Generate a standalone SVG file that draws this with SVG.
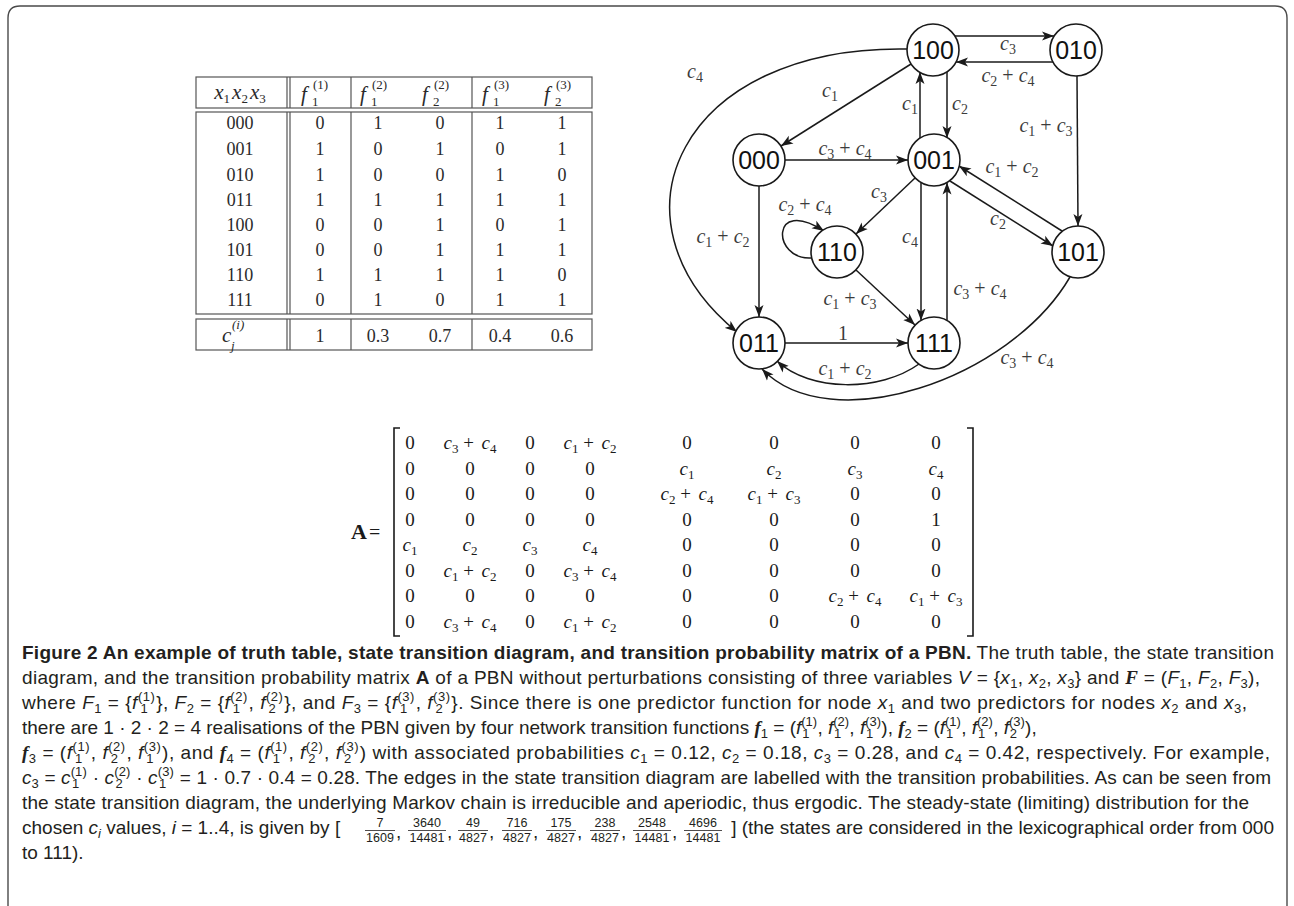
<svg xmlns="http://www.w3.org/2000/svg" width="1294" height="906" viewBox="0 0 1294 906">
<defs>
<style>
.frame{fill:none;stroke:#4a4a4a;stroke-width:1.4}
.tb{fill:none;stroke:#555;stroke-width:1.2}
.tt{font-family:"Liberation Serif","Times New Roman",serif;font-size:18px;fill:#2a2a2a;text-anchor:middle}
.ts{font-family:"Liberation Serif","Times New Roman",serif;font-size:13px;fill:#2a2a2a}
.tf{font-family:"Liberation Serif","Times New Roman",serif;font-size:21px;fill:#2a2a2a;font-style:italic}
.i{font-style:italic}
.node circle{fill:#fff;stroke:#1a1a1a;stroke-width:1.6}
.node text{font-family:"Liberation Sans",Arial,sans-serif;font-size:25px;fill:#111;text-anchor:middle}
.edge{fill:none;stroke:#1a1a1a;stroke-width:1.5;marker-end:url(#ah)}
.gl{font-family:"Liberation Serif",serif;font-size:20px;fill:#3c3c3c;text-anchor:middle}
.gs{font-size:14px}
.mx{font-family:"Liberation Serif",serif;font-size:19px;fill:#1a1a1a;text-anchor:middle}
.ms{font-size:13px}
.br{fill:none;stroke:#1a1a1a;stroke-width:1.6}
.cap{font-family:"Liberation Sans",Arial,sans-serif;font-size:19px;fill:#231f20}
.cb{font-weight:bold}
.ci{font-style:italic}
.cs{font-size:13px}
.bfi{font-family:"Liberation Serif",serif;font-weight:bold;font-style:italic}
.fr{font-family:"Liberation Sans",Arial,sans-serif;font-size:12.5px;fill:#231f20;text-anchor:middle}
.fb{stroke:#231f20;stroke-width:0.8}
</style>
<marker id="ah" viewBox="0 0 12 10" refX="12" refY="5" markerWidth="12" markerHeight="10" markerUnits="userSpaceOnUse" orient="auto"><path d="M0,0.5 L12,5 L0,9.5 L3,5 z" fill="#1a1a1a"/></marker>
</defs>
<rect width="1294" height="906" fill="#fff"/>
<path class="frame" d="M8,930 L8,18 Q8,6 20,6 L1275,6 Q1287,6 1287,18 L1287,930"/>

<g id="truth-table">
<rect class="tb" x="196" y="77" width="396" height="31"/>
<rect class="tb" x="196" y="112" width="396" height="202"/>
<rect class="tb" x="196" y="319" width="396" height="31"/>
<path class="tb" d="M287,77V108M290,77V108M351,77V108M472,77V108M287,112V314M290,112V314M351,112V314M472,112V314M287,319V350M290,319V350M351,319V350M472,319V350"/>
<text class="tt" x="240" y="99" style="font-size:21px"><tspan class="i">x</tspan><tspan class="ts" dy="4">1</tspan><tspan class="i" dx="2" dy="-4">x</tspan><tspan class="ts" dy="4">2</tspan><tspan class="i" dx="2" dy="-4">x</tspan><tspan class="ts" dy="4">3</tspan></text>
<text class="tf" x="301" y="101">f</text><text class="ts" x="313" y="89">(1)</text><text class="ts" x="312" y="106">1</text>
<text class="tf" x="360" y="101">f</text><text class="ts" x="372" y="89">(2)</text><text class="ts" x="371" y="106">1</text>
<text class="tf" x="422" y="101">f</text><text class="ts" x="434" y="89">(2)</text><text class="ts" x="433" y="106">2</text>
<text class="tf" x="482" y="101">f</text><text class="ts" x="494" y="89">(3)</text><text class="ts" x="493" y="106">1</text>
<text class="tf" x="544" y="101">f</text><text class="ts" x="556" y="89">(3)</text><text class="ts" x="555" y="106">2</text>
<text class="tt" y="129"><tspan x="240">000</tspan><tspan x="320">0</tspan><tspan x="378">1</tspan><tspan x="440">0</tspan><tspan x="500">1</tspan><tspan x="562">1</tspan></text>
<text class="tt" y="155"><tspan x="240">001</tspan><tspan x="320">1</tspan><tspan x="378">0</tspan><tspan x="440">1</tspan><tspan x="500">0</tspan><tspan x="562">1</tspan></text>
<text class="tt" y="181"><tspan x="240">010</tspan><tspan x="320">1</tspan><tspan x="378">0</tspan><tspan x="440">0</tspan><tspan x="500">1</tspan><tspan x="562">0</tspan></text>
<text class="tt" y="206"><tspan x="240">011</tspan><tspan x="320">1</tspan><tspan x="378">1</tspan><tspan x="440">1</tspan><tspan x="500">1</tspan><tspan x="562">1</tspan></text>
<text class="tt" y="231"><tspan x="240">100</tspan><tspan x="320">0</tspan><tspan x="378">0</tspan><tspan x="440">1</tspan><tspan x="500">0</tspan><tspan x="562">1</tspan></text>
<text class="tt" y="256"><tspan x="240">101</tspan><tspan x="320">0</tspan><tspan x="378">0</tspan><tspan x="440">1</tspan><tspan x="500">1</tspan><tspan x="562">1</tspan></text>
<text class="tt" y="281"><tspan x="240">110</tspan><tspan x="320">1</tspan><tspan x="378">1</tspan><tspan x="440">1</tspan><tspan x="500">1</tspan><tspan x="562">0</tspan></text>
<text class="tt" y="306"><tspan x="240">111</tspan><tspan x="320">0</tspan><tspan x="378">1</tspan><tspan x="440">0</tspan><tspan x="500">1</tspan><tspan x="562">1</tspan></text>
<text class="tf" x="222" y="342">c</text><text class="ts i" x="232" y="329">(i)</text><text class="ts i" x="231" y="350">j</text>
<text class="tt" y="342"><tspan x="320">1</tspan><tspan x="378">0.3</tspan><tspan x="440">0.7</tspan><tspan x="500">0.4</tspan><tspan x="562">0.6</tspan></text>
</g>

<g id="edges">
<path class="edge" d="M955,36 L1054,36"/>
<path class="edge" d="M1053,62 L956,62"/>
<path class="edge" d="M1077,76 L1078,226"/>
<path class="edge" d="M911,64 L781,146"/>
<path class="edge" d="M920,138 L920,72"/>
<path class="edge" d="M947,72 L947,138"/>
<path class="edge" d="M785,160 L908,160"/>
<path class="edge" d="M915,178 L856,234"/>
<path class="edge" d="M811,258 C772,260 770,196 824,231"/>
<path class="edge" d="M921,182.5 L921,320.5"/>
<path class="edge" d="M947,320.5 L947,182.5"/>
<path class="edge" d="M950,181 L1053,246"/>
<path class="edge" d="M1062,231 L959,166"/>
<path class="edge" d="M759,186 L759,317"/>
<path class="edge" d="M907,49 C680,45 600,220 737,332"/>
<path class="edge" d="M856,270 L915,325"/>
<path class="edge" d="M785,343 L908,343"/>
<path class="edge" d="M919,364 C880,392 810,392 777,361"/>
<path class="edge" d="M1070,277 C1010,380 830,440 762,369"/>
<text class="gl" x="1008" y="50"><tspan class="i">c</tspan><tspan class="gs" dy="4">3</tspan></text>
<text class="gl" x="1008" y="82"><tspan class="i">c</tspan><tspan class="gs" dy="4">2</tspan><tspan dy="-4"> + </tspan><tspan class="i">c</tspan><tspan class="gs" dy="4">4</tspan></text>
<text class="gl" x="1046" y="132"><tspan class="i">c</tspan><tspan class="gs" dy="4">1</tspan><tspan dy="-4"> + </tspan><tspan class="i">c</tspan><tspan class="gs" dy="4">3</tspan></text>
<text class="gl" x="830" y="97"><tspan class="i">c</tspan><tspan class="gs" dy="4">1</tspan></text>
<text class="gl" x="910" y="110"><tspan class="i">c</tspan><tspan class="gs" dy="4">1</tspan></text>
<text class="gl" x="960" y="110"><tspan class="i">c</tspan><tspan class="gs" dy="4">2</tspan></text>
<text class="gl" x="845" y="155"><tspan class="i">c</tspan><tspan class="gs" dy="4">3</tspan><tspan dy="-4"> + </tspan><tspan class="i">c</tspan><tspan class="gs" dy="4">4</tspan></text>
<text class="gl" x="879" y="198"><tspan class="i">c</tspan><tspan class="gs" dy="4">3</tspan></text>
<text class="gl" x="805" y="211"><tspan class="i">c</tspan><tspan class="gs" dy="4">2</tspan><tspan dy="-4"> + </tspan><tspan class="i">c</tspan><tspan class="gs" dy="4">4</tspan></text>
<text class="gl" x="910" y="243"><tspan class="i">c</tspan><tspan class="gs" dy="4">4</tspan></text>
<text class="gl" x="980" y="295"><tspan class="i">c</tspan><tspan class="gs" dy="4">3</tspan><tspan dy="-4"> + </tspan><tspan class="i">c</tspan><tspan class="gs" dy="4">4</tspan></text>
<text class="gl" x="998" y="225"><tspan class="i">c</tspan><tspan class="gs" dy="4">2</tspan></text>
<text class="gl" x="1012" y="173"><tspan class="i">c</tspan><tspan class="gs" dy="4">1</tspan><tspan dy="-4"> + </tspan><tspan class="i">c</tspan><tspan class="gs" dy="4">2</tspan></text>
<text class="gl" x="723" y="243"><tspan class="i">c</tspan><tspan class="gs" dy="4">1</tspan><tspan dy="-4"> + </tspan><tspan class="i">c</tspan><tspan class="gs" dy="4">2</tspan></text>
<text class="gl" x="695" y="78"><tspan class="i">c</tspan><tspan class="gs" dy="4">4</tspan></text>
<text class="gl" x="850" y="305"><tspan class="i">c</tspan><tspan class="gs" dy="4">1</tspan><tspan dy="-4"> + </tspan><tspan class="i">c</tspan><tspan class="gs" dy="4">3</tspan></text>
<text class="gl" x="843" y="340">1</text>
<text class="gl" x="845" y="375"><tspan class="i">c</tspan><tspan class="gs" dy="4">1</tspan><tspan dy="-4"> + </tspan><tspan class="i">c</tspan><tspan class="gs" dy="4">2</tspan></text>
<text class="gl" x="1027" y="364"><tspan class="i">c</tspan><tspan class="gs" dy="4">3</tspan><tspan dy="-4"> + </tspan><tspan class="i">c</tspan><tspan class="gs" dy="4">4</tspan></text>
</g>

<g id="n100" class="node"><circle cx="933" cy="50" r="26"/><text x="933" y="59">100</text></g>
<g id="n010" class="node"><circle cx="1076" cy="50" r="26"/><text x="1076" y="59">010</text></g>
<g id="n000" class="node"><circle cx="759" cy="160" r="26"/><text x="759" y="169">000</text></g>
<g id="n001" class="node"><circle cx="934" cy="160" r="26"/><text x="934" y="169">001</text></g>
<g id="n110" class="node"><circle cx="837" cy="252" r="26"/><text x="837" y="261">110</text></g>
<g id="n101" class="node"><circle cx="1078" cy="252" r="26"/><text x="1078" y="261">101</text></g>
<g id="n011" class="node"><circle cx="759" cy="343" r="26"/><text x="759" y="352">011</text></g>
<g id="n111" class="node"><circle cx="934" cy="343" r="26"/><text x="934" y="352">111</text></g>

<g id="matrix">
<text x="351" y="539" style="font-family:'Liberation Serif',serif;font-size:22px;font-weight:bold;fill:#1a1a1a">A</text>
<text x="369" y="539" style="font-family:'Liberation Serif',serif;font-size:20px;fill:#1a1a1a">=</text>
<path class="br" d="M400,428 H394 V636 H400"/>
<path class="br" d="M967,428 H973 V636 H967"/>
<text class="mx" y="449"><tspan x="410">0</tspan><tspan x="470" class="i">c</tspan><tspan class="ms" dy="4">3</tspan><tspan dy="-4"> + </tspan><tspan class="i" dx="3">c</tspan><tspan class="ms" dy="4">4</tspan><tspan x="530" dy="-4">0</tspan><tspan x="590" class="i">c</tspan><tspan class="ms" dy="4">1</tspan><tspan dy="-4"> + </tspan><tspan class="i" dx="3">c</tspan><tspan class="ms" dy="4">2</tspan><tspan x="687" dy="-4">0</tspan><tspan x="774">0</tspan><tspan x="855">0</tspan><tspan x="936">0</tspan></text>
<text class="mx" y="474.5"><tspan x="410">0</tspan><tspan x="470">0</tspan><tspan x="530">0</tspan><tspan x="590">0</tspan><tspan x="687" class="i">c</tspan><tspan class="ms" dy="4">1</tspan><tspan x="774" dy="-4" class="i">c</tspan><tspan class="ms" dy="4">2</tspan><tspan x="855" dy="-4" class="i">c</tspan><tspan class="ms" dy="4">3</tspan><tspan x="936" dy="-4" class="i">c</tspan><tspan class="ms" dy="4">4</tspan></text>
<text class="mx" y="500"><tspan x="410">0</tspan><tspan x="470">0</tspan><tspan x="530">0</tspan><tspan x="590">0</tspan><tspan x="687" class="i">c</tspan><tspan class="ms" dy="4">2</tspan><tspan dy="-4"> + </tspan><tspan class="i" dx="3">c</tspan><tspan class="ms" dy="4">4</tspan><tspan x="774" dy="-4" class="i">c</tspan><tspan class="ms" dy="4">1</tspan><tspan dy="-4"> + </tspan><tspan class="i" dx="3">c</tspan><tspan class="ms" dy="4">3</tspan><tspan x="855" dy="-4">0</tspan><tspan x="936">0</tspan></text>
<text class="mx" y="525.5"><tspan x="410">0</tspan><tspan x="470">0</tspan><tspan x="530">0</tspan><tspan x="590">0</tspan><tspan x="687">0</tspan><tspan x="774">0</tspan><tspan x="855">0</tspan><tspan x="936">1</tspan></text>
<text class="mx" y="551"><tspan x="410" class="i">c</tspan><tspan class="ms" dy="4">1</tspan><tspan x="470" dy="-4" class="i">c</tspan><tspan class="ms" dy="4">2</tspan><tspan x="530" dy="-4" class="i">c</tspan><tspan class="ms" dy="4">3</tspan><tspan x="590" dy="-4" class="i">c</tspan><tspan class="ms" dy="4">4</tspan><tspan x="687" dy="-4">0</tspan><tspan x="774">0</tspan><tspan x="855">0</tspan><tspan x="936">0</tspan></text>
<text class="mx" y="576.5"><tspan x="410">0</tspan><tspan x="470" class="i">c</tspan><tspan class="ms" dy="4">1</tspan><tspan dy="-4"> + </tspan><tspan class="i" dx="3">c</tspan><tspan class="ms" dy="4">2</tspan><tspan x="530" dy="-4">0</tspan><tspan x="590" class="i">c</tspan><tspan class="ms" dy="4">3</tspan><tspan dy="-4"> + </tspan><tspan class="i" dx="3">c</tspan><tspan class="ms" dy="4">4</tspan><tspan x="687" dy="-4">0</tspan><tspan x="774">0</tspan><tspan x="855">0</tspan><tspan x="936">0</tspan></text>
<text class="mx" y="602"><tspan x="410">0</tspan><tspan x="470">0</tspan><tspan x="530">0</tspan><tspan x="590">0</tspan><tspan x="687">0</tspan><tspan x="774">0</tspan><tspan x="855" class="i">c</tspan><tspan class="ms" dy="4">2</tspan><tspan dy="-4"> + </tspan><tspan class="i" dx="3">c</tspan><tspan class="ms" dy="4">4</tspan><tspan x="936" dy="-4" class="i">c</tspan><tspan class="ms" dy="4">1</tspan><tspan dy="-4"> + </tspan><tspan class="i" dx="3">c</tspan><tspan class="ms" dy="4">3</tspan></text>
<text class="mx" y="627.5"><tspan x="410">0</tspan><tspan x="470" class="i">c</tspan><tspan class="ms" dy="4">3</tspan><tspan dy="-4"> + </tspan><tspan class="i" dx="3">c</tspan><tspan class="ms" dy="4">4</tspan><tspan x="530" dy="-4">0</tspan><tspan x="590" class="i">c</tspan><tspan class="ms" dy="4">1</tspan><tspan dy="-4"> + </tspan><tspan class="i" dx="3">c</tspan><tspan class="ms" dy="4">2</tspan><tspan x="687" dy="-4">0</tspan><tspan x="774">0</tspan><tspan x="855">0</tspan><tspan x="936">0</tspan></text>
</g>

<g id="caption">
<text class="cap" x="22" y="659" textLength="1252" lengthAdjust="spacing"><tspan class="cb">Figure 2 An example of truth table, state transition diagram, and transition probability matrix of a PBN.</tspan> The truth table, the state transition</text>
<text class="cap" x="22" y="684" textLength="1238" lengthAdjust="spacing">diagram, and the transition probability matrix <tspan class="cb">A</tspan> of a PBN without perturbations consisting of three variables <tspan class="ci">V</tspan> = {<tspan class="ci">x</tspan><tspan class="cs" dy="4">1</tspan><tspan dy="-4">, </tspan><tspan class="ci">x</tspan><tspan class="cs" dy="4">2</tspan><tspan dy="-4">, </tspan><tspan class="ci">x</tspan><tspan class="cs" dy="4">3</tspan><tspan dy="-4">} and </tspan><tspan class="bfi">F</tspan> = (<tspan class="ci">F</tspan><tspan class="cs" dy="4">1</tspan><tspan dy="-4">, </tspan><tspan class="ci">F</tspan><tspan class="cs" dy="4">2</tspan><tspan dy="-4">, </tspan><tspan class="ci">F</tspan><tspan class="cs" dy="4">3</tspan><tspan dy="-4">),</tspan></text>
<text class="cap" x="22" y="709" textLength="1225" lengthAdjust="spacing">where <tspan class="ci">F</tspan><tspan class="cs" dy="4">1</tspan><tspan dy="-4"> = {</tspan><tspan class="ci">f</tspan><tspan class="cs" dy="-8">(1)</tspan><tspan class="cs" dx="-15" dy="12">1</tspan><tspan dx="8" dy="-4">}, </tspan><tspan class="ci">F</tspan><tspan class="cs" dy="4">2</tspan><tspan dy="-4"> = {</tspan><tspan class="ci">f</tspan><tspan class="cs" dy="-8">(2)</tspan><tspan class="cs" dx="-15" dy="12">1</tspan><tspan dx="8" dy="-4">, </tspan><tspan class="ci">f</tspan><tspan class="cs" dy="-8">(2)</tspan><tspan class="cs" dx="-15" dy="12">2</tspan><tspan dx="8" dy="-4">}, and </tspan><tspan class="ci">F</tspan><tspan class="cs" dy="4">3</tspan><tspan dy="-4"> = {</tspan><tspan class="ci">f</tspan><tspan class="cs" dy="-8">(3)</tspan><tspan class="cs" dx="-15" dy="12">1</tspan><tspan dx="8" dy="-4">, </tspan><tspan class="ci">f</tspan><tspan class="cs" dy="-8">(3)</tspan><tspan class="cs" dx="-15" dy="12">2</tspan><tspan dx="8" dy="-4">}. Since there is one predictor function for node </tspan><tspan class="ci">x</tspan><tspan class="cs" dy="4">1</tspan><tspan dy="-4"> and two predictors for nodes </tspan><tspan class="ci">x</tspan><tspan class="cs" dy="4">2</tspan><tspan dy="-4"> and </tspan><tspan class="ci">x</tspan><tspan class="cs" dy="4">3</tspan><tspan dy="-4">,</tspan></text>
<text class="cap" x="22" y="734">there are 1 · 2 · 2 = 4 realisations of the PBN given by four network transition functions <tspan class="bfi">f</tspan><tspan class="cs" dy="4">1</tspan><tspan dy="-4"> = (</tspan><tspan class="ci">f</tspan><tspan class="cs" dy="-8">(1)</tspan><tspan class="cs" dx="-15" dy="12">1</tspan><tspan dx="8" dy="-4">, </tspan><tspan class="ci">f</tspan><tspan class="cs" dy="-8">(2)</tspan><tspan class="cs" dx="-15" dy="12">1</tspan><tspan dx="8" dy="-4">, </tspan><tspan class="ci">f</tspan><tspan class="cs" dy="-8">(3)</tspan><tspan class="cs" dx="-15" dy="12">1</tspan><tspan dx="8" dy="-4">), </tspan><tspan class="bfi">f</tspan><tspan class="cs" dy="4">2</tspan><tspan dy="-4"> = (</tspan><tspan class="ci">f</tspan><tspan class="cs" dy="-8">(1)</tspan><tspan class="cs" dx="-15" dy="12">1</tspan><tspan dx="8" dy="-4">, </tspan><tspan class="ci">f</tspan><tspan class="cs" dy="-8">(2)</tspan><tspan class="cs" dx="-15" dy="12">1</tspan><tspan dx="8" dy="-4">, </tspan><tspan class="ci">f</tspan><tspan class="cs" dy="-8">(3)</tspan><tspan class="cs" dx="-15" dy="12">2</tspan><tspan dx="8" dy="-4">),</tspan></text>
<text class="cap" x="22" y="759" textLength="1248" lengthAdjust="spacing"><tspan class="bfi">f</tspan><tspan class="cs" dy="4">3</tspan><tspan dy="-4"> = (</tspan><tspan class="ci">f</tspan><tspan class="cs" dy="-8">(1)</tspan><tspan class="cs" dx="-15" dy="12">1</tspan><tspan dx="8" dy="-4">, </tspan><tspan class="ci">f</tspan><tspan class="cs" dy="-8">(2)</tspan><tspan class="cs" dx="-15" dy="12">2</tspan><tspan dx="8" dy="-4">, </tspan><tspan class="ci">f</tspan><tspan class="cs" dy="-8">(3)</tspan><tspan class="cs" dx="-15" dy="12">1</tspan><tspan dx="8" dy="-4">), and </tspan><tspan class="bfi">f</tspan><tspan class="cs" dy="4">4</tspan><tspan dy="-4"> = (</tspan><tspan class="ci">f</tspan><tspan class="cs" dy="-8">(1)</tspan><tspan class="cs" dx="-15" dy="12">1</tspan><tspan dx="8" dy="-4">, </tspan><tspan class="ci">f</tspan><tspan class="cs" dy="-8">(2)</tspan><tspan class="cs" dx="-15" dy="12">2</tspan><tspan dx="8" dy="-4">, </tspan><tspan class="ci">f</tspan><tspan class="cs" dy="-8">(3)</tspan><tspan class="cs" dx="-15" dy="12">2</tspan><tspan dx="8" dy="-4">) with associated probabilities </tspan><tspan class="ci">c</tspan><tspan class="cs" dy="4">1</tspan><tspan dy="-4"> = 0.12, </tspan><tspan class="ci">c</tspan><tspan class="cs" dy="4">2</tspan><tspan dy="-4"> = 0.18, </tspan><tspan class="ci">c</tspan><tspan class="cs" dy="4">3</tspan><tspan dy="-4"> = 0.28, and </tspan><tspan class="ci">c</tspan><tspan class="cs" dy="4">4</tspan><tspan dy="-4"> = 0.42, respectively. For example,</tspan></text>
<text class="cap" x="22" y="784" textLength="1249" lengthAdjust="spacing"><tspan class="ci">c</tspan><tspan class="cs" dy="4">3</tspan><tspan dy="-4"> = </tspan><tspan class="ci">c</tspan><tspan class="cs" dy="-8">(1)</tspan><tspan class="cs" dx="-15" dy="12">1</tspan><tspan dx="8" dy="-4"> · </tspan><tspan class="ci">c</tspan><tspan class="cs" dy="-8">(2)</tspan><tspan class="cs" dx="-15" dy="12">2</tspan><tspan dx="8" dy="-4"> · </tspan><tspan class="ci">c</tspan><tspan class="cs" dy="-8">(3)</tspan><tspan class="cs" dx="-15" dy="12">1</tspan><tspan dx="8" dy="-4"> = 1 · 0.7 · 0.4 = 0.28. The edges in the state transition diagram are labelled with the transition probabilities. As can be seen from</tspan></text>
<text class="cap" x="22" y="809" textLength="1227" lengthAdjust="spacing">the state transition diagram, the underlying Markov chain is irreducible and aperiodic, thus ergodic. The steady-state (limiting) distribution for the</text>
<text class="cap" x="22" y="834">chosen <tspan class="ci">c</tspan><tspan class="cs ci" dy="4">i</tspan><tspan dy="-4"> values, </tspan><tspan class="ci">i</tspan> = 1..4, is given by [</text>
<text class="fr" y="827"><tspan x="380">7</tspan><tspan x="427">3640</tspan><tspan x="473">49</tspan><tspan x="517">716</tspan><tspan x="561">175</tspan><tspan x="605">238</tspan><tspan x="652">2548</tspan><tspan x="703">4696</tspan></text>
<text class="fr" y="842"><tspan x="380">1609</tspan><tspan x="427">14481</tspan><tspan x="473">4827</tspan><tspan x="517">4827</tspan><tspan x="561">4827</tspan><tspan x="605">4827</tspan><tspan x="652">14481</tspan><tspan x="703">14481</tspan></text>
<path class="fb" d="M365,830.5H395M408,830.5H446M458,830.5H488M502,830.5H532M546,830.5H576M590,830.5H620M633,830.5H671M684,830.5H722"/>
<text class="cap" y="838"><tspan x="396">,</tspan><tspan x="447">,</tspan><tspan x="489">,</tspan><tspan x="533">,</tspan><tspan x="577">,</tspan><tspan x="621">,</tspan><tspan x="672">,</tspan></text>
<text class="cap" x="1274" y="834" text-anchor="end">] (the states are considered in the lexicographical order from 000</text>
<text class="cap" x="22" y="859">to 111).</text>
</g>
</svg>
